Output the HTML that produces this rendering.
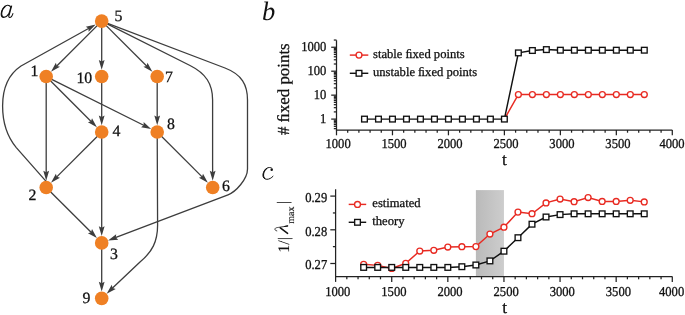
<!DOCTYPE html>
<html><head><meta charset="utf-8"><style>
html,body{margin:0;padding:0;background:#fff;}
svg{display:block;will-change:transform;text-rendering:geometricPrecision;}
text{stroke:#111;stroke-width:0.28px;}
.nost text{stroke:none;}
.thin text{stroke-width:0.12px;}
</style></head><body>
<svg width="685" height="315" viewBox="0 0 685 315">
<rect width="685" height="315" fill="#fff"/>
<g fill="none" stroke="#3d3d3d" stroke-width="1.3" stroke-linejoin="round">
<path d="M101.70,21.10L56.53,66.23"/>
<path d="M101.70,21.10L101.70,61.95"/>
<path d="M101.70,21.10L146.87,66.23"/>
<path d="M46.20,76.55L46.20,172.85"/>
<path d="M46.20,76.55L91.37,121.68"/>
<path d="M46.20,76.55L144.14,125.48"/>
<path d="M101.70,76.55L101.70,117.40"/>
<path d="M157.20,76.55L157.20,117.40"/>
<path d="M101.70,132.00L56.53,177.13"/>
<path d="M101.70,132.00L101.70,228.30"/>
<path d="M157.20,132.00L202.37,177.13"/>
<path d="M46.20,187.45L91.37,232.58"/>
<path d="M101.70,242.90L101.70,283.75"/>
<path d="M47.2,182.6 L16.3,147.6 C7.5,137 2.6,124 2.6,106 C2.6,88 9,74 21,66 L88.94,28.20"/>
<path d="M101.70,21.10 L190,65.5 C206,73.5 212.6,84 212.6,100 L212.6,165 L212.65,172.85"/>
<path d="M101.70,21.10 L225,68 C242,74.5 247.5,85 247.5,100 L247.5,169 C247.5,179 236,191.7 228,194.8 L115.34,237.70"/>
<path d="M157.20,132.00 L157.6,225 C157.6,242 152,252 140,262 L112.29,288.30"/>
</g>
<path d="M51.01,71.74L55.89,62.77L56.88,65.88L59.99,66.87Z" fill="#3d3d3d"/>
<path d="M101.70,69.75L98.80,59.95L101.70,61.45L104.60,59.95Z" fill="#3d3d3d"/>
<path d="M152.39,71.74L143.41,66.87L146.52,65.88L147.51,62.77Z" fill="#3d3d3d"/>
<path d="M46.20,180.65L43.30,170.85L46.20,172.35L49.10,170.85Z" fill="#3d3d3d"/>
<path d="M96.89,127.19L87.91,122.32L91.02,121.33L92.01,118.22Z" fill="#3d3d3d"/>
<path d="M151.12,128.96L141.05,127.18L143.69,125.25L143.65,121.99Z" fill="#3d3d3d"/>
<path d="M101.70,125.20L98.80,115.40L101.70,116.90L104.60,115.40Z" fill="#3d3d3d"/>
<path d="M157.20,125.20L154.30,115.40L157.20,116.90L160.10,115.40Z" fill="#3d3d3d"/>
<path d="M51.01,182.64L55.89,173.67L56.88,176.78L59.99,177.77Z" fill="#3d3d3d"/>
<path d="M101.70,236.10L98.80,226.30L101.70,227.80L104.60,226.30Z" fill="#3d3d3d"/>
<path d="M207.89,182.64L198.91,177.77L202.02,176.78L203.01,173.67Z" fill="#3d3d3d"/>
<path d="M96.89,238.09L87.91,233.22L91.02,232.23L92.01,229.12Z" fill="#3d3d3d"/>
<path d="M101.70,291.55L98.80,281.75L101.70,283.25L104.60,281.75Z" fill="#3d3d3d"/>
<path d="M95.76,24.41L88.60,31.70L88.50,28.44L85.78,26.64Z" fill="#3d3d3d"/>
<path d="M212.68,180.65L209.74,170.86L212.64,172.35L215.54,170.84Z" fill="#3d3d3d"/>
<path d="M108.05,240.48L116.18,234.28L115.81,237.53L118.25,239.70Z" fill="#3d3d3d"/>
<path d="M106.63,293.67L111.74,284.82L112.65,287.96L115.74,289.03Z" fill="#3d3d3d"/>
<circle cx="101.70" cy="21.10" r="6.8" fill="#EF8024"/>
<circle cx="46.20" cy="76.55" r="6.8" fill="#EF8024"/>
<circle cx="101.70" cy="76.55" r="6.8" fill="#EF8024"/>
<circle cx="157.20" cy="76.55" r="6.8" fill="#EF8024"/>
<circle cx="101.70" cy="132.00" r="6.8" fill="#EF8024"/>
<circle cx="157.20" cy="132.00" r="6.8" fill="#EF8024"/>
<circle cx="46.20" cy="187.45" r="6.8" fill="#EF8024"/>
<circle cx="212.70" cy="187.45" r="6.8" fill="#EF8024"/>
<circle cx="101.70" cy="242.90" r="6.8" fill="#EF8024"/>
<circle cx="101.70" cy="298.35" r="6.8" fill="#EF8024"/>
<g font-family="Liberation Serif" font-size="15.8" fill="#111">
<text x="114.38" y="21.40">5</text>
<text x="30.61" y="76.20">1</text>
<text x="76.41" y="82.70">10</text>
<text x="164.96" y="82.30">7</text>
<text x="112.39" y="136.20">4</text>
<text x="167.00" y="128.70">8</text>
<text x="28.51" y="199.70">2</text>
<text x="222.02" y="190.80">6</text>
<text x="109.94" y="258.70">3</text>
<text x="82.49" y="303.10">9</text>
</g>
<g font-family="Liberation Serif" font-style="italic" font-size="26.5" fill="#111" class="nost">
<text x="262" y="20.1">b</text>
</g>
<g fill="none" stroke="#111" stroke-linecap="round">
<path d="M10.8,7.3 C9.8,5.5 8.2,5.1 7.2,5.3 C3.8,5.8 1.2,10.5 1.2,14 C1.2,16.2 2.4,17.3 3.8,17.3 C5.8,17.3 7.6,15.6 8.6,14" stroke-width="1.15"/>
<path d="M5.2,6.6 C2.9,8.4 1.7,11.6 1.7,14 C1.7,15.2 2.1,16.3 3.1,16.9" stroke-width="1.1"/>
<path d="M11.5,5.6 L8.8,15.2" stroke-width="1.6" stroke-linecap="butt"/>
<path d="M8.85,15 C8.5,16.6 8.9,17.4 9.7,17.4 C11,17.4 12.2,16 12.9,13.6" stroke-width="1.05"/>
<path d="M272.2,168.6 C271.5,167.8 270.4,167.5 269.4,167.5 C265.8,167.5 262.9,171.8 262.9,175.4 C262.9,177.8 264.7,179.3 266.9,179.3 C269.3,179.3 271.4,178 273,176.3" stroke-width="1.0"/>
<path d="M266.7,168.5 C264.6,170.1 263.5,172.8 263.5,175.3 C263.5,176.7 263.9,177.8 264.9,178.5" stroke-width="1.1"/>
</g>
<circle cx="271.7" cy="169.8" r="1.25" fill="#111"/>
<g stroke="#222" stroke-width="1.25" fill="none">
<path d="M336.5,40.3 L336.5,130 L672.3,130"/>
<path d="M336.50,130 L336.50,135.30"/>
<path d="M347.69,130 L347.69,132.70"/>
<path d="M358.89,130 L358.89,132.70"/>
<path d="M370.08,130 L370.08,132.70"/>
<path d="M381.27,130 L381.27,132.70"/>
<path d="M392.47,130 L392.47,135.30"/>
<path d="M403.66,130 L403.66,132.70"/>
<path d="M414.85,130 L414.85,132.70"/>
<path d="M426.04,130 L426.04,132.70"/>
<path d="M437.24,130 L437.24,132.70"/>
<path d="M448.43,130 L448.43,135.30"/>
<path d="M459.62,130 L459.62,132.70"/>
<path d="M470.82,130 L470.82,132.70"/>
<path d="M482.01,130 L482.01,132.70"/>
<path d="M493.20,130 L493.20,132.70"/>
<path d="M504.39,130 L504.39,135.30"/>
<path d="M515.59,130 L515.59,132.70"/>
<path d="M526.78,130 L526.78,132.70"/>
<path d="M537.97,130 L537.97,132.70"/>
<path d="M549.17,130 L549.17,132.70"/>
<path d="M560.36,130 L560.36,135.30"/>
<path d="M571.55,130 L571.55,132.70"/>
<path d="M582.75,130 L582.75,132.70"/>
<path d="M593.94,130 L593.94,132.70"/>
<path d="M605.13,130 L605.13,132.70"/>
<path d="M616.33,130 L616.33,135.30"/>
<path d="M627.52,130 L627.52,132.70"/>
<path d="M638.71,130 L638.71,132.70"/>
<path d="M649.90,130 L649.90,132.70"/>
<path d="M661.10,130 L661.10,132.70"/>
<path d="M672.29,130 L672.29,135.30"/>
<path d="M336.5,128.63 L333.80,128.63"/>
<path d="M336.5,126.31 L333.80,126.31"/>
<path d="M336.5,124.41 L333.80,124.41"/>
<path d="M336.5,122.81 L333.80,122.81"/>
<path d="M336.5,121.42 L333.80,121.42"/>
<path d="M336.5,120.20 L333.80,120.20"/>
<path d="M336.5,119.10 L331.20,119.10"/>
<path d="M336.5,111.89 L333.80,111.89"/>
<path d="M336.5,107.67 L333.80,107.67"/>
<path d="M336.5,104.68 L333.80,104.68"/>
<path d="M336.5,102.36 L333.80,102.36"/>
<path d="M336.5,100.46 L333.80,100.46"/>
<path d="M336.5,98.86 L333.80,98.86"/>
<path d="M336.5,97.47 L333.80,97.47"/>
<path d="M336.5,96.25 L333.80,96.25"/>
<path d="M336.5,95.15 L331.20,95.15"/>
<path d="M336.5,87.94 L333.80,87.94"/>
<path d="M336.5,83.72 L333.80,83.72"/>
<path d="M336.5,80.73 L333.80,80.73"/>
<path d="M336.5,78.41 L333.80,78.41"/>
<path d="M336.5,76.51 L333.80,76.51"/>
<path d="M336.5,74.91 L333.80,74.91"/>
<path d="M336.5,73.52 L333.80,73.52"/>
<path d="M336.5,72.30 L333.80,72.30"/>
<path d="M336.5,71.20 L331.20,71.20"/>
<path d="M336.5,63.99 L333.80,63.99"/>
<path d="M336.5,59.77 L333.80,59.77"/>
<path d="M336.5,56.78 L333.80,56.78"/>
<path d="M336.5,54.46 L333.80,54.46"/>
<path d="M336.5,52.56 L333.80,52.56"/>
<path d="M336.5,50.96 L333.80,50.96"/>
<path d="M336.5,49.57 L333.80,49.57"/>
<path d="M336.5,48.35 L333.80,48.35"/>
<path d="M336.5,47.25 L331.20,47.25"/>
<path d="M336.5,40.04 L333.80,40.04"/>
</g>
<g font-family="Liberation Serif" font-size="12.6" fill="#111">
<text transform="translate(338.10,148.30) scale(1,1.08)" text-anchor="middle">1000</text>
<text transform="translate(394.07,148.30) scale(1,1.08)" text-anchor="middle">1500</text>
<text transform="translate(450.03,148.30) scale(1,1.08)" text-anchor="middle">2000</text>
<text transform="translate(506.00,148.30) scale(1,1.08)" text-anchor="middle">2500</text>
<text transform="translate(561.96,148.30) scale(1,1.08)" text-anchor="middle">3000</text>
<text transform="translate(617.93,148.30) scale(1,1.08)" text-anchor="middle">3500</text>
<text transform="translate(684.60,148.30) scale(1,1.08)" text-anchor="end">4000</text>
<text transform="translate(326.40,123.10) scale(1,1.08)" text-anchor="end">1</text>
<text transform="translate(326.40,99.15) scale(1,1.08)" text-anchor="end">10</text>
<text transform="translate(326.40,75.20) scale(1,1.08)" text-anchor="end">100</text>
<text transform="translate(326.40,51.25) scale(1,1.08)" text-anchor="end">1000</text>
</g>
<polyline points="504.39,119.10 518.39,94.50 532.38,94.50 546.37,94.50 560.36,94.50 574.35,94.50 588.34,94.50 602.33,94.50 616.33,94.50 630.32,94.50 644.31,94.50" fill="none" stroke="#E82A22" stroke-width="1.45"/>
<circle cx="518.39" cy="94.50" r="2.95" fill="#fff" stroke="#E82A22" stroke-width="1.35"/>
<circle cx="532.38" cy="94.50" r="2.95" fill="#fff" stroke="#E82A22" stroke-width="1.35"/>
<circle cx="546.37" cy="94.50" r="2.95" fill="#fff" stroke="#E82A22" stroke-width="1.35"/>
<circle cx="560.36" cy="94.50" r="2.95" fill="#fff" stroke="#E82A22" stroke-width="1.35"/>
<circle cx="574.35" cy="94.50" r="2.95" fill="#fff" stroke="#E82A22" stroke-width="1.35"/>
<circle cx="588.34" cy="94.50" r="2.95" fill="#fff" stroke="#E82A22" stroke-width="1.35"/>
<circle cx="602.33" cy="94.50" r="2.95" fill="#fff" stroke="#E82A22" stroke-width="1.35"/>
<circle cx="616.33" cy="94.50" r="2.95" fill="#fff" stroke="#E82A22" stroke-width="1.35"/>
<circle cx="630.32" cy="94.50" r="2.95" fill="#fff" stroke="#E82A22" stroke-width="1.35"/>
<circle cx="644.31" cy="94.50" r="2.95" fill="#fff" stroke="#E82A22" stroke-width="1.35"/>
<polyline points="364.48,119.10 378.47,119.10 392.47,119.10 406.46,119.10 420.45,119.10 434.44,119.10 448.43,119.10 462.42,119.10 476.41,119.10 490.40,119.10 504.39,119.10 518.39,52.90 532.38,50.50 546.37,49.60 560.36,50.20 574.35,50.20 588.34,50.20 602.33,50.20 616.33,50.20 630.32,50.20 644.31,50.20" fill="none" stroke="#111111" stroke-width="1.45"/>
<rect x="361.63" y="116.25" width="5.7" height="5.7" fill="#fff" stroke="#111111" stroke-width="1.35"/>
<rect x="375.62" y="116.25" width="5.7" height="5.7" fill="#fff" stroke="#111111" stroke-width="1.35"/>
<rect x="389.62" y="116.25" width="5.7" height="5.7" fill="#fff" stroke="#111111" stroke-width="1.35"/>
<rect x="403.61" y="116.25" width="5.7" height="5.7" fill="#fff" stroke="#111111" stroke-width="1.35"/>
<rect x="417.60" y="116.25" width="5.7" height="5.7" fill="#fff" stroke="#111111" stroke-width="1.35"/>
<rect x="431.59" y="116.25" width="5.7" height="5.7" fill="#fff" stroke="#111111" stroke-width="1.35"/>
<rect x="445.58" y="116.25" width="5.7" height="5.7" fill="#fff" stroke="#111111" stroke-width="1.35"/>
<rect x="459.57" y="116.25" width="5.7" height="5.7" fill="#fff" stroke="#111111" stroke-width="1.35"/>
<rect x="473.56" y="116.25" width="5.7" height="5.7" fill="#fff" stroke="#111111" stroke-width="1.35"/>
<rect x="487.55" y="116.25" width="5.7" height="5.7" fill="#fff" stroke="#111111" stroke-width="1.35"/>
<rect x="501.54" y="116.25" width="5.7" height="5.7" fill="#fff" stroke="#111111" stroke-width="1.35"/>
<rect x="515.54" y="50.05" width="5.7" height="5.7" fill="#fff" stroke="#111111" stroke-width="1.35"/>
<rect x="529.53" y="47.65" width="5.7" height="5.7" fill="#fff" stroke="#111111" stroke-width="1.35"/>
<rect x="543.52" y="46.75" width="5.7" height="5.7" fill="#fff" stroke="#111111" stroke-width="1.35"/>
<rect x="557.51" y="47.35" width="5.7" height="5.7" fill="#fff" stroke="#111111" stroke-width="1.35"/>
<rect x="571.50" y="47.35" width="5.7" height="5.7" fill="#fff" stroke="#111111" stroke-width="1.35"/>
<rect x="585.49" y="47.35" width="5.7" height="5.7" fill="#fff" stroke="#111111" stroke-width="1.35"/>
<rect x="599.48" y="47.35" width="5.7" height="5.7" fill="#fff" stroke="#111111" stroke-width="1.35"/>
<rect x="613.48" y="47.35" width="5.7" height="5.7" fill="#fff" stroke="#111111" stroke-width="1.35"/>
<rect x="627.47" y="47.35" width="5.7" height="5.7" fill="#fff" stroke="#111111" stroke-width="1.35"/>
<rect x="641.46" y="47.35" width="5.7" height="5.7" fill="#fff" stroke="#111111" stroke-width="1.35"/>
<path d="M349.8,55.1 L368.3,55.1" stroke="#E82A22" stroke-width="1.45"/>
<circle cx="359" cy="55.1" r="2.95" fill="#fff" stroke="#E82A22" stroke-width="1.35"/>
<path d="M349.8,73.3 L368.3,73.3" stroke="#111111" stroke-width="1.45"/>
<rect x="356.15" y="70.45" width="5.7" height="5.7" fill="#fff" stroke="#111111" stroke-width="1.35"/>
<g font-family="Liberation Serif" font-size="12.6" fill="#111">
<text x="373" y="58.3">stable ﬁxed points</text>
<text x="373" y="76.4">unstable ﬁxed points</text>
</g>
<text x="502.1" y="165.1" font-family="Liberation Serif" font-size="17.4" fill="#111">t</text>
<text transform="translate(288.6,135.1) rotate(-90)" font-family="Liberation Serif" font-size="16.85" fill="#111"># ﬁxed points</text>
<defs><linearGradient id="gband" x1="0" x2="1" y1="0" y2="0"><stop offset="0" stop-color="#bababa"/><stop offset="1" stop-color="#cdcdcd"/></linearGradient></defs>
<rect x="475.89" y="190.1" width="28.06" height="86.50" fill="url(#gband)"/>
<g stroke="#222" stroke-width="1.25" fill="none">
<path d="M335.6,189.3 L335.6,276.6 L672.3,276.6"/>
<path d="M335.60,276.6 L335.60,281.90"/>
<path d="M346.82,276.6 L346.82,279.30"/>
<path d="M358.05,276.6 L358.05,279.30"/>
<path d="M369.27,276.6 L369.27,279.30"/>
<path d="M380.49,276.6 L380.49,279.30"/>
<path d="M391.72,276.6 L391.72,281.90"/>
<path d="M402.94,276.6 L402.94,279.30"/>
<path d="M414.16,276.6 L414.16,279.30"/>
<path d="M425.38,276.6 L425.38,279.30"/>
<path d="M436.61,276.6 L436.61,279.30"/>
<path d="M447.83,276.6 L447.83,281.90"/>
<path d="M459.05,276.6 L459.05,279.30"/>
<path d="M470.28,276.6 L470.28,279.30"/>
<path d="M481.50,276.6 L481.50,279.30"/>
<path d="M492.72,276.6 L492.72,279.30"/>
<path d="M503.95,276.6 L503.95,281.90"/>
<path d="M515.17,276.6 L515.17,279.30"/>
<path d="M526.39,276.6 L526.39,279.30"/>
<path d="M537.61,276.6 L537.61,279.30"/>
<path d="M548.84,276.6 L548.84,279.30"/>
<path d="M560.06,276.6 L560.06,281.90"/>
<path d="M571.28,276.6 L571.28,279.30"/>
<path d="M582.51,276.6 L582.51,279.30"/>
<path d="M593.73,276.6 L593.73,279.30"/>
<path d="M604.95,276.6 L604.95,279.30"/>
<path d="M616.17,276.6 L616.17,281.90"/>
<path d="M627.40,276.6 L627.40,279.30"/>
<path d="M638.62,276.6 L638.62,279.30"/>
<path d="M649.84,276.6 L649.84,279.30"/>
<path d="M661.07,276.6 L661.07,279.30"/>
<path d="M672.29,276.6 L672.29,281.90"/>
<path d="M335.6,263.50 L330.30,263.50"/>
<path d="M335.6,246.65 L332.90,246.65"/>
<path d="M335.6,229.80 L330.30,229.80"/>
<path d="M335.6,212.95 L332.90,212.95"/>
<path d="M335.6,196.10 L330.30,196.10"/>
</g>
<g font-family="Liberation Serif" font-size="12.6" fill="#111">
<text transform="translate(337.80,296.10) scale(1,1.08)" text-anchor="middle">1000</text>
<text transform="translate(393.92,296.10) scale(1,1.08)" text-anchor="middle">1500</text>
<text transform="translate(450.03,296.10) scale(1,1.08)" text-anchor="middle">2000</text>
<text transform="translate(506.15,296.10) scale(1,1.08)" text-anchor="middle">2500</text>
<text transform="translate(562.26,296.10) scale(1,1.08)" text-anchor="middle">3000</text>
<text transform="translate(618.38,296.10) scale(1,1.08)" text-anchor="middle">3500</text>
<text transform="translate(684.20,296.10) scale(1,1.08)" text-anchor="end">4000</text>
<text transform="translate(327.20,269.20) scale(1,1.08)" text-anchor="end">0.27</text>
<text transform="translate(327.20,235.50) scale(1,1.08)" text-anchor="end">0.28</text>
<text transform="translate(327.20,201.80) scale(1,1.08)" text-anchor="end">0.29</text>
</g>
<polyline points="363.66,264.30 377.69,265.40 391.72,268.40 405.74,263.30 419.77,251.00 433.80,250.30 447.83,247.00 461.86,246.70 475.89,246.60 489.92,234.00 503.95,227.20 517.97,212.10 532.00,213.70 546.03,202.90 560.06,199.00 574.09,201.70 588.12,197.50 602.15,201.40 616.17,201.40 630.20,200.30 644.23,201.90" fill="none" stroke="#E82A22" stroke-width="1.45"/>
<circle cx="363.66" cy="264.30" r="2.95" fill="#fff" stroke="#E82A22" stroke-width="1.35"/>
<circle cx="377.69" cy="265.40" r="2.95" fill="#fff" stroke="#E82A22" stroke-width="1.35"/>
<circle cx="391.72" cy="268.40" r="2.95" fill="#fff" stroke="#E82A22" stroke-width="1.35"/>
<circle cx="405.74" cy="263.30" r="2.95" fill="#fff" stroke="#E82A22" stroke-width="1.35"/>
<circle cx="419.77" cy="251.00" r="2.95" fill="#fff" stroke="#E82A22" stroke-width="1.35"/>
<circle cx="433.80" cy="250.30" r="2.95" fill="#fff" stroke="#E82A22" stroke-width="1.35"/>
<circle cx="447.83" cy="247.00" r="2.95" fill="#fff" stroke="#E82A22" stroke-width="1.35"/>
<circle cx="461.86" cy="246.70" r="2.95" fill="#fff" stroke="#E82A22" stroke-width="1.35"/>
<circle cx="475.89" cy="246.60" r="2.95" fill="#fff" stroke="#E82A22" stroke-width="1.35"/>
<circle cx="489.92" cy="234.00" r="2.95" fill="#fff" stroke="#E82A22" stroke-width="1.35"/>
<circle cx="503.95" cy="227.20" r="2.95" fill="#fff" stroke="#E82A22" stroke-width="1.35"/>
<circle cx="517.97" cy="212.10" r="2.95" fill="#fff" stroke="#E82A22" stroke-width="1.35"/>
<circle cx="532.00" cy="213.70" r="2.95" fill="#fff" stroke="#E82A22" stroke-width="1.35"/>
<circle cx="546.03" cy="202.90" r="2.95" fill="#fff" stroke="#E82A22" stroke-width="1.35"/>
<circle cx="560.06" cy="199.00" r="2.95" fill="#fff" stroke="#E82A22" stroke-width="1.35"/>
<circle cx="574.09" cy="201.70" r="2.95" fill="#fff" stroke="#E82A22" stroke-width="1.35"/>
<circle cx="588.12" cy="197.50" r="2.95" fill="#fff" stroke="#E82A22" stroke-width="1.35"/>
<circle cx="602.15" cy="201.40" r="2.95" fill="#fff" stroke="#E82A22" stroke-width="1.35"/>
<circle cx="616.17" cy="201.40" r="2.95" fill="#fff" stroke="#E82A22" stroke-width="1.35"/>
<circle cx="630.20" cy="200.30" r="2.95" fill="#fff" stroke="#E82A22" stroke-width="1.35"/>
<circle cx="644.23" cy="201.90" r="2.95" fill="#fff" stroke="#E82A22" stroke-width="1.35"/>
<polyline points="363.66,267.40 377.69,267.40 391.72,267.40 405.74,267.40 419.77,267.40 433.80,267.40 447.83,267.40 461.86,266.70 475.89,265.00 489.92,260.90 503.95,251.20 517.97,237.70 532.00,224.20 546.03,217.00 560.06,214.60 574.09,213.80 588.12,213.80 602.15,213.80 616.17,213.80 630.20,213.80 644.23,213.80" fill="none" stroke="#111111" stroke-width="1.45"/>
<rect x="360.81" y="264.55" width="5.7" height="5.7" fill="#fff" stroke="#111111" stroke-width="1.35"/>
<rect x="374.84" y="264.55" width="5.7" height="5.7" fill="#fff" stroke="#111111" stroke-width="1.35"/>
<rect x="388.87" y="264.55" width="5.7" height="5.7" fill="#fff" stroke="#111111" stroke-width="1.35"/>
<rect x="402.89" y="264.55" width="5.7" height="5.7" fill="#fff" stroke="#111111" stroke-width="1.35"/>
<rect x="416.92" y="264.55" width="5.7" height="5.7" fill="#fff" stroke="#111111" stroke-width="1.35"/>
<rect x="430.95" y="264.55" width="5.7" height="5.7" fill="#fff" stroke="#111111" stroke-width="1.35"/>
<rect x="444.98" y="264.55" width="5.7" height="5.7" fill="#fff" stroke="#111111" stroke-width="1.35"/>
<rect x="459.01" y="263.85" width="5.7" height="5.7" fill="#fff" stroke="#111111" stroke-width="1.35"/>
<rect x="473.04" y="262.15" width="5.7" height="5.7" fill="#fff" stroke="#111111" stroke-width="1.35"/>
<rect x="487.07" y="258.05" width="5.7" height="5.7" fill="#fff" stroke="#111111" stroke-width="1.35"/>
<rect x="501.10" y="248.35" width="5.7" height="5.7" fill="#fff" stroke="#111111" stroke-width="1.35"/>
<rect x="515.12" y="234.85" width="5.7" height="5.7" fill="#fff" stroke="#111111" stroke-width="1.35"/>
<rect x="529.15" y="221.35" width="5.7" height="5.7" fill="#fff" stroke="#111111" stroke-width="1.35"/>
<rect x="543.18" y="214.15" width="5.7" height="5.7" fill="#fff" stroke="#111111" stroke-width="1.35"/>
<rect x="557.21" y="211.75" width="5.7" height="5.7" fill="#fff" stroke="#111111" stroke-width="1.35"/>
<rect x="571.24" y="210.95" width="5.7" height="5.7" fill="#fff" stroke="#111111" stroke-width="1.35"/>
<rect x="585.27" y="210.95" width="5.7" height="5.7" fill="#fff" stroke="#111111" stroke-width="1.35"/>
<rect x="599.30" y="210.95" width="5.7" height="5.7" fill="#fff" stroke="#111111" stroke-width="1.35"/>
<rect x="613.32" y="210.95" width="5.7" height="5.7" fill="#fff" stroke="#111111" stroke-width="1.35"/>
<rect x="627.35" y="210.95" width="5.7" height="5.7" fill="#fff" stroke="#111111" stroke-width="1.35"/>
<rect x="641.38" y="210.95" width="5.7" height="5.7" fill="#fff" stroke="#111111" stroke-width="1.35"/>
<path d="M348.7,204.4 L366.2,204.4" stroke="#E82A22" stroke-width="1.45"/>
<circle cx="357.5" cy="204.4" r="2.95" fill="#fff" stroke="#E82A22" stroke-width="1.35"/>
<path d="M348.7,222.3 L366.2,222.3" stroke="#111111" stroke-width="1.45"/>
<rect x="354.65" y="219.45" width="5.7" height="5.7" fill="#fff" stroke="#111111" stroke-width="1.35"/>
<g font-family="Liberation Serif" font-size="12.6" fill="#111">
<text x="372.3" y="207.2">estimated</text>
<text x="372.3" y="225.0">theory</text>
</g>
<text x="502.2" y="313.1" font-family="Liberation Serif" font-size="17.4" fill="#111">t</text>
<g font-family="Liberation Serif" fill="#111" class="thin">
<text transform="translate(288.6,252.7) rotate(-90)" font-size="16">1/|</text>
<path d="M276.8,230.9 C275.4,230.7 274.6,229.7 275.0,228.7 C275.5,227.8 276.8,227.6 278.5,227.4 L287.7,226.0" fill="none" stroke="#111" stroke-width="0.8" stroke-linecap="round"/>
<path d="M280.3,227.9 L287.6,233.4" fill="none" stroke="#111" stroke-width="1.5" stroke-linecap="round"/>
<path d="M284.6,226.5 L287.6,225.9" fill="none" stroke="#111" stroke-width="1.2" stroke-linecap="round"/>
<text transform="translate(294.2,223.8) rotate(-90)" font-size="10">max</text>
<text transform="translate(288.4,204.0) rotate(-90)" font-size="16">|</text>
</g>
</svg>
</body></html>
